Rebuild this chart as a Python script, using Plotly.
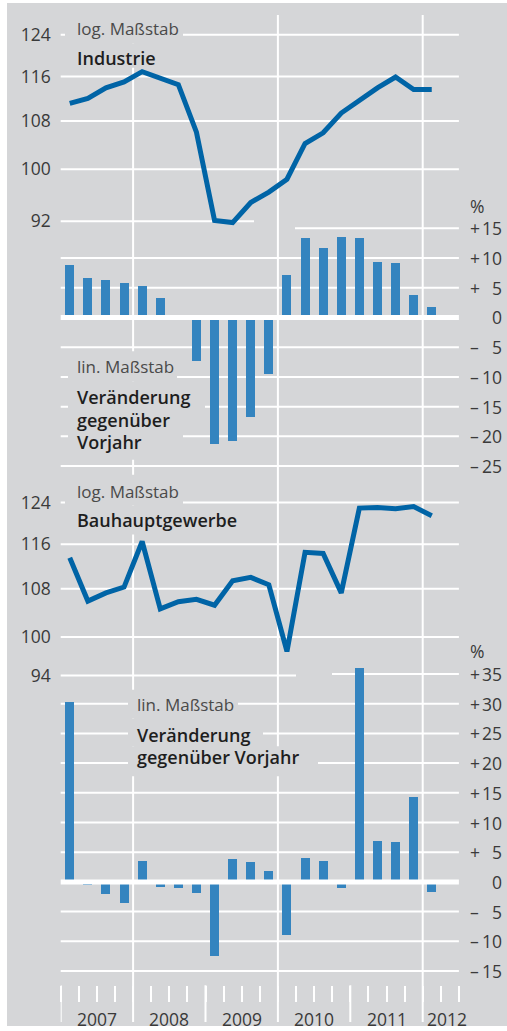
import math
import plotly.graph_objects as go

# ---------------- data ----------------
years = ["2007", "2008", "2009", "2010", "2011", "2012"]
quarters = list(range(21))  # 2007 Q1 ... 2012 Q1

industrie_index = [111.1, 112.0, 113.9, 115.0, 116.9, 115.8, 114.5, 106.1, 92.1, 91.8, 94.8,
                   96.4, 98.4, 104.2, 106.0, 109.4, 111.6, 113.9, 115.9, 113.6, 113.6]
industrie_change = [8.8, 6.6, 6.3, 5.8, 5.3, 3.3, 0.0, -7.4, -21.2, -20.7, -16.8,
                    -9.5, 7.2, 13.3, 11.6, 13.6, 13.3, 9.4, 9.2, 3.8, 1.8]
bau_index = [113.5, 105.9, 107.3, 108.3, 116.5, 104.6, 105.8, 106.2, 105.2, 109.4, 110.0,
             108.7, 97.7, 114.5, 114.3, 107.3, 122.9, 123.0, 122.8, 123.2, 121.4]
bau_change = [30.3, -0.5, -2.0, -3.5, 3.5, -0.8, -1.1, -1.9, -12.4, 3.9, 3.3,
              1.9, -9.0, 4.1, 3.5, -1.1, 36.0, 6.9, 6.7, 14.3, -1.7]

ind_log_ticks = [92, 100, 108, 116, 124]
bau_log_ticks = [94, 100, 108, 116, 124]
ind_pct_ticks = [15, 10, 5, 0, -5, -10, -15, -20, -25]
bau_pct_ticks = [35, 30, 25, 20, 15, 10, 5, 0, -5, -10, -15]

# ---------------- style ----------------
W, H = 507, 1031
BG = "#d5d6d8"
LINE = "#0064a6"
BAR = "#3484bf"
TXT = "#3a3a3a"
FONT = "Open Sans"
FS = 17.5
FSM = 17
FSB = 18

def py(p):
    return 1 - p / H

def px(p):
    return p / W

X0, QW = 60.7, 18.1
NQ = 22                      # quarter slots 2007Q1 .. 2012Q2
X1 = X0 + NQ * QW
K = 1445.0                   # px per decade on the log scales
L124 = math.log10(124)
S1, Z1 = 5.975, 319.0        # top percent scale
S2, Z2 = 5.968, 886.2        # bottom percent scale

fig = go.Figure()
fig.add_trace(go.Bar(x=quarters, y=industrie_change, xaxis="x", yaxis="y2",
                     marker=dict(color=BAR, line=dict(width=0)), width=0.5, showlegend=False))
fig.add_trace(go.Scatter(x=quarters, y=industrie_index, xaxis="x", yaxis="y", mode="lines",
                         line=dict(color=LINE, width=5), showlegend=False))
fig.add_trace(go.Bar(x=quarters, y=bau_change, xaxis="x", yaxis="y4",
                     marker=dict(color=BAR, line=dict(width=0)), width=0.5, showlegend=False))
fig.add_trace(go.Scatter(x=quarters, y=bau_index, xaxis="x", yaxis="y3", mode="lines",
                         line=dict(color=LINE, width=5), showlegend=False))

tickfont = dict(family=FONT, size=FS, color=TXT)
common_y = dict(anchor="x", showgrid=False, zeroline=False, showline=False, ticks="")

fig.update_layout(
    width=W, height=H, margin=dict(l=0, r=0, t=0, b=0),
    paper_bgcolor="white", plot_bgcolor="rgba(0,0,0,0)",
    bargap=0, showlegend=False, hovermode=False,
    xaxis=dict(domain=[px(X0), px(X1)], range=[-0.5, NQ - 0.5], anchor="y4",
               showgrid=False, zeroline=False, showline=False,
               tickmode="array", tickvals=[k - 0.5 for k in range(NQ + 1)],
               ticks="outside", ticklen=16, tickwidth=2, tickcolor="white",
               showticklabels=False),
    yaxis=dict(type="log", domain=[py(228), py(15)],
               range=[L124 - (228 - 35) / K, L124 + (35 - 15) / K],
               tickmode="array", tickvals=ind_log_ticks, ticktext=[str(v) for v in ind_log_ticks],
               tickfont=tickfont, ticklabelstandoff=9, **common_y),
    yaxis2=dict(domain=[py(475), py(228)],
                range=[-(475 - Z1) / S1, (Z1 - 228) / S1],
                showticklabels=False, **common_y),
    yaxis3=dict(type="log", domain=[py(690), py(477)],
                range=[L124 - (690 - 505) / K, L124 + (505 - 477) / K],
                tickmode="array", tickvals=bau_log_ticks, ticktext=[str(v) for v in bau_log_ticks],
                tickfont=tickfont, ticklabelstandoff=9, **common_y),
    yaxis4=dict(domain=[py(990), py(660)],
                range=[-(990 - Z2) / S2, (Z2 - 660) / S2],
                showticklabels=False, **common_y),
)

shapes = []
# grey background
shapes.append(dict(type="rect", xref="paper", yref="paper", x0=px(7), x1=1, y0=0, y1=py(3),
                   fillcolor=BG, line=dict(width=0), layer="below"))

# vertical grid lines (every other year boundary) and long year ticks
for i in range(len(years)):
    xb = 4 * i - 0.5
    top = 15 if i % 2 == 1 else 990
    shapes.append(dict(type="line", xref="x", yref="paper", x0=xb, x1=xb, y0=py(top), y1=py(1027),
                       line=dict(color="white", width=2), layer="below"))

# horizontal grid lines
partial = {("y", 92): (X0, 254), ("y2", 15): (295, X1), ("y3", 94): (X0, 296), ("y4", 35): (332, X1)}
for ax, ticks in (("y", ind_log_ticks), ("y2", ind_pct_ticks), ("y3", bau_log_ticks), ("y4", bau_pct_ticks)):
    for v in ticks:
        if v == 0:
            continue
        a, b = partial.get((ax, v), (X0, X1))
        shapes.append(dict(type="line", xref="paper", yref=ax, x0=px(a), x1=px(b), y0=v, y1=v,
                           line=dict(color="white", width=2), layer="below"))

# thick zero lines above bars
for ax in ("y2", "y4"):
    shapes.append(dict(type="line", xref="paper", yref=ax, x0=px(X0), x1=px(X1), y0=0, y1=0,
                       line=dict(color="white", width=5), layer="above"))

# background boxes behind the text labels
covers = [
    (65, 183, 15, 44), (65, 165, 44, 68),
    (68, 177, 353, 383), (68, 205, 383, 412), (68, 190, 412, 433), (68, 183, 433, 462),
    (65, 183, 477, 508), (65, 255, 508, 537),
    (128, 238, 693, 722), (128, 263, 722, 750), (128, 318, 750, 780),
]
for a, b, t, u in covers:
    shapes.append(dict(type="rect", xref="paper", yref="paper", x0=px(a), x1=px(b), y0=py(u), y1=py(t),
                       fillcolor=BG, line=dict(width=0), layer="above"))
fig.update_layout(shapes=shapes)

ann = []

def label(text, x, y, size=FS, color=TXT, anchor="left", xref="paper", yref="paper", xshift=0, weight=None):
    font = dict(family=FONT, size=size, color=color)
    if weight:
        font["weight"] = weight
    ann.append(dict(text=text, x=x, y=y, xref=xref, yref=yref, xanchor=anchor, yanchor="middle",
                    showarrow=False, xshift=xshift, font=font))

def title(text, x, y):
    label(text, x, y, size=FSB, color="#1e1e1e", weight=600)

# panel texts
label("log. Maßstab", px(75), py(29), size=FSM, color="#4a4a4a")
title("Industrie", px(75), py(58))
label("lin. Maßstab", px(75), py(368), size=FSM, color="#4a4a4a")
title("Veränderung", px(75), py(399))
title("gegenüber", px(75), py(421.7))
title("Vorjahr", px(75), py(444))
label("log. Maßstab", px(75), py(494.3), size=FSM, color="#4a4a4a")
title("Bauhauptgewerbe", px(75), py(522.7))
label("lin. Maßstab", px(135), py(708.3), size=FSM, color="#4a4a4a")
title("Veränderung", px(135), py(739))
title("gegenüber Vorjahr", px(135), py(760.7))

# right-hand percent axes
label("%", px(468), py(206.7))
label("%", px(468), py(654.3))
for ax, ticks in (("y2", ind_pct_ticks), ("y4", bau_pct_ticks)):
    for v in ticks:
        if v != 0:
            label("+" if v > 0 else "–", px(468), v, yref=ax)
        label(str(abs(v)), px(504), v, anchor="right", yref=ax)

# year labels
for i, yr in enumerate(years):
    q_in = min(4, NQ - 4 * i)
    xc = 4 * i - 0.5 + q_in / 2
    label(yr, xc, py(1023.5), anchor="center", xref="x", xshift=6 if q_in < 4 else 0)

fig.update_layout(annotations=ann)
fig.write_html("out.html", config={"displayModeBar": False, "staticPlot": True},
               post_script="document.documentElement.style.margin='0';document.body.style.margin='0';")
